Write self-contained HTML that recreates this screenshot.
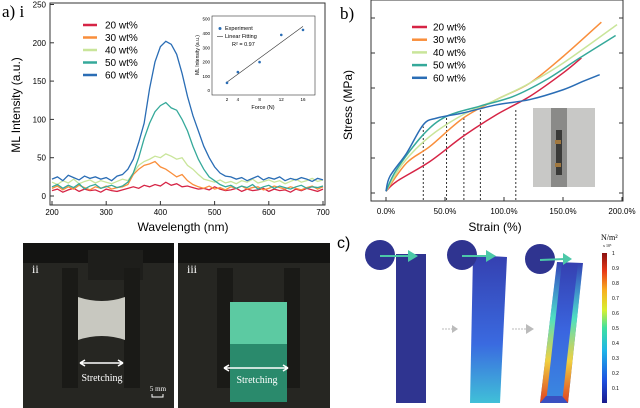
<!DOCTYPE html>
<html><head><meta charset="utf-8"><style>
body{margin:0;background:#fff;width:640px;height:408px;overflow:hidden;font-family:"Liberation Sans",sans-serif}
svg{position:absolute;left:0;top:0}
</style></head><body>
<svg width="640" height="408" viewBox="0 0 640 408">
<defs>
<linearGradient id="cb" x1="0" y1="1" x2="0" y2="0">
<stop offset="0" stop-color="#1a1a8c"/><stop offset="0.15" stop-color="#1e50e0"/><stop offset="0.35" stop-color="#1fb5e8"/><stop offset="0.5" stop-color="#3fe0a0"/><stop offset="0.62" stop-color="#d8f030"/><stop offset="0.75" stop-color="#f8b020"/><stop offset="0.88" stop-color="#e83a18"/><stop offset="1" stop-color="#8a1010"/>
</linearGradient>
<linearGradient id="bar2" x1="0" y1="0" x2="0" y2="1"><stop offset="0" stop-color="#3540b0"/><stop offset="0.6" stop-color="#3a6ae0"/><stop offset="1" stop-color="#40c0d8"/></linearGradient>
<linearGradient id="bar3" x1="0" y1="0" x2="0" y2="1"><stop offset="0" stop-color="#3540b0"/><stop offset="0.5" stop-color="#3a66e0"/><stop offset="1" stop-color="#3a8ae0"/></linearGradient>
<linearGradient id="edge" x1="0" y1="0" x2="0" y2="1"><stop offset="0" stop-color="#40c0e0" stop-opacity="0"/><stop offset="0.4" stop-color="#50e0c0"/><stop offset="0.7" stop-color="#f0d040"/><stop offset="1" stop-color="#e04020"/></linearGradient>
</defs>
<g id="chartA"></g>
<g id="chartB"></g>
<text x="2" y="17" font-family="Liberation Serif,serif" font-size="17">a) i</text>
<text x="340" y="19" font-family="Liberation Serif,serif" font-size="17">b)</text>
<text x="337" y="248" font-family="Liberation Sans,sans-serif" font-size="16">c)</text>
<g>
<rect x="23" y="243" width="151" height="165" fill="#262622"/>
<rect x="23" y="243" width="151" height="20" fill="#141412"/>
<rect x="88" y="250" width="55" height="30" fill="#1e1e1b"/>
<rect x="62" y="268" width="16" height="120" fill="#1a1a17"/>
<rect x="124" y="268" width="16" height="120" fill="#1a1a17"/>
<path d="M78 297 Q102 305 125 297 L125 340 Q102 332 78 340Z" fill="#c8c8c0"/>
<text x="32" y="273" fill="#fff" font-family="Liberation Serif,serif" font-size="12">ii</text>
<path d="M80 363 H123 M80 363 l5-3 M80 363 l5 3 M123 363 l-5-3 M123 363 l-5 3" stroke="#fff" stroke-width="1.6" fill="none"/>
<text x="102" y="381" fill="#fff" text-anchor="middle" font-family="Liberation Serif,serif" font-size="10">Stretching</text>
<text x="158" y="391" fill="#fff" text-anchor="middle" font-family="Liberation Serif,serif" font-size="7">5 mm</text>
<path d="M152 394 V397 H163 V394" stroke="#fff" fill="none"/>
</g>
<g>
<rect x="178" y="243" width="152" height="165" fill="#262622"/>
<rect x="178" y="243" width="152" height="20" fill="#141412"/>
<rect x="217" y="268" width="16" height="120" fill="#1a1a17"/>
<rect x="284" y="268" width="16" height="120" fill="#1a1a17"/>
<rect x="230" y="302" width="57" height="100" fill="#2a8a6c"/>
<rect x="230" y="302" width="57" height="42" fill="#5ccaa2"/>
<text x="187" y="273" fill="#fff" font-family="Liberation Serif,serif" font-size="12">iii</text>
<path d="M224 368 H288 M224 368 l5-3 M224 368 l5 3 M288 368 l-5-3 M288 368 l-5 3" stroke="#fff" stroke-width="1.6" fill="none"/>
<text x="257" y="383" fill="#fff" text-anchor="middle" font-family="Liberation Serif,serif" font-size="10">Stretching</text>
</g>
<g>
<rect x="396" y="254" width="30" height="149" fill="#2f3490"/>
<polygon points="473,255 507,257 500,403 470,403" fill="url(#bar2)"/>
<polygon points="557,262 583,263 568,403 540,403" fill="url(#bar3)"/>
<polygon points="557,262 562,262 546,403 540,403" fill="url(#edge)"/>
<polygon points="578,263 583,263 568,403 562,403" fill="url(#edge)"/>
<polygon points="546,396 562,396 568,403 540,403" fill="#3a50c0"/>
<circle cx="380" cy="255" r="15" fill="#2f3490"/>
<circle cx="462" cy="255" r="15" fill="#2f3490"/>
<circle cx="540" cy="259" r="15" fill="#2f3490"/>
<g stroke="#4cc8a8" stroke-width="2"><line x1="380" y1="256" x2="410" y2="256"/><line x1="462" y1="256" x2="488" y2="256"/><line x1="540" y1="260" x2="565" y2="259"/></g>
<g fill="#4cc8a8"><polygon points="408,250 418,256 408,262"/><polygon points="486,250 496,256 486,262"/><polygon points="563,253 572,259 563,265"/></g>
<g stroke="#bbb" stroke-dasharray="2,1"><line x1="442" y1="329" x2="452" y2="329"/><line x1="512" y1="329" x2="526" y2="329"/></g>
<g fill="#bbb"><polygon points="452,325 458,329 452,333"/><polygon points="526,324 534,329 526,334"/></g>
<rect x="602" y="253" width="5" height="150" fill="url(#cb)"/>
<text x="601" y="240" font-family="Liberation Serif,serif" font-size="8">N/m²</text>
<text x="603" y="247" font-family="Liberation Serif,serif" font-size="4">x 10⁵</text>
<g font-size="5" font-family="Liberation Sans,sans-serif" id="cbt"></g>
</g>
<g>
<rect x="533" y="108" width="62" height="79" fill="#c8c8c6"/>
<rect x="551" y="108" width="16" height="79" fill="#8a8a88"/>
<rect x="556" y="130" width="6" height="45" fill="#3a3a38"/>
<rect x="555" y="140" width="6" height="4" fill="#a07840"/><rect x="555" y="163" width="6" height="4" fill="#a07840"/>
</g>
</svg>
<script>
const NS="http://www.w3.org/2000/svg";
function mk(p,t,a){const e=document.createElementNS(NS,t);for(const k in a)e.setAttribute(k,a[k]);p.appendChild(e);return e;}
const wavelengths=[200,210,220,230,240,250,260,270,280,290,300,310,320,330,340,350,360,370,380,390,400,410,420,430,440,450,460,470,480,490,500,510,520,530,540,550,560,570,580,590,600,610,620,630,640,650,660,670,680,690,700];
const s20=[7,9,5,8,10,6,9,7,8,5,9,7,6,8,10,12,10,14,12,15,13,18,14,16,12,13,11,9,10,8,12,9,7,8,10,6,9,7,8,10,6,9,7,8,5,9,7,10,8,6,9];
const s30=[10,13,8,12,9,14,11,8,12,10,13,9,11,12,15,28,35,40,42,45,38,35,30,25,28,20,15,12,10,13,9,11,8,12,10,13,9,11,12,8,10,13,11,9,12,10,8,11,13,9,12];
const s40=[18,15,20,17,22,16,19,21,17,20,18,16,19,22,20,30,40,45,48,52,50,55,52,48,50,40,35,28,22,20,18,21,17,19,16,20,18,22,17,19,21,18,20,16,19,22,18,20,23,19,21];
const s50=[12,15,10,14,11,16,9,13,15,10,12,14,11,13,18,30,50,75,95,110,118,122,115,112,100,85,65,48,35,25,20,15,12,14,10,13,11,15,9,12,14,10,13,11,9,12,14,10,12,11,13];
const s60=[22,25,20,27,24,21,26,23,25,22,24,20,26,28,35,48,70,95,140,175,195,202,198,185,160,130,105,85,65,50,38,30,26,25,22,24,20,23,26,21,24,22,25,20,23,21,24,22,19,23,21];
const seriesA=[s20,s30,s40,s50,s60];
const names=["20 wt%","30 wt%","40 wt%","50 wt%","60 wt%"];
const colors=["#d62445","#f98e3b","#c9e59a","#35a99a","#2a6db5"];
const xTicksA=[200,300,400,500,600,700];
const yTicksA=[0,50,100,150,200,250];
const insetForce=[2,4,8,12,16];
const insetML=[55,130,200,390,425];
const insetXT=[2,4,8,12,16];
const insetYT=[0,100,200,300,400,500];
const strain20=[0,9,37.2,65.4,93.7,121.9,150.1,165.6];
const stress20=[0.05,0.33,0.9,1.62,2.24,2.76,3.43,3.86];
const strain30=[0,17.5,37.2,65.4,93.7,121.9,150.1,182.5];
const stress30=[0.05,0.86,1.33,2.14,2.67,3.14,3.9,4.88];
const strain40=[0,14.7,37.2,65.4,93.7,121.9,150.1,195.8];
const stress40=[0.05,0.86,1.62,2.24,2.67,3.14,3.71,4.81];
const strain50=[0,9,31.6,51.3,79.5,107.8,136,164.2,194.6];
const stress50=[0.05,0.67,1.67,2.19,2.48,2.76,3.24,3.86,4.5];
const strain60=[0,3.4,17.5,31.6,42.9,65.5,93.7,121.9,150.1,167,181.1];
const stress60=[0.05,0.48,1.14,1.95,2.14,2.29,2.52,2.67,2.95,3.19,3.38];
const dashStrain=[31.6,51.3,66,80,110];
const dashStress=[1.9,2.2,2.14,2.38,2.4];
const xTicksB=[0,50,100,150,200];
const yTicksB=[0,1,2,3,4,5];

function smooth(pts){let d="M"+pts[0][0]+" "+pts[0][1];for(let i=1;i<pts.length;i++){const p0=pts[Math.max(0,i-2)],p1=pts[i-1],p2=pts[i],p3=pts[Math.min(pts.length-1,i+1)];d+=" C"+(p1[0]+(p2[0]-p0[0])/6)+" "+(p1[1]+(p2[1]-p0[1])/6)+" "+(p2[0]-(p3[0]-p1[0])/6)+" "+(p2[1]-(p3[1]-p1[1])/6)+" "+p2[0]+" "+p2[1];}return d;}

(function(){
const g=document.getElementById("chartA");
const X=v=>52+(v-200)/500*271, Y=v=>196-v*0.766;
const fr=mk(g,"rect",{x:50,y:3,width:275,height:202,fill:"none",stroke:"#333","stroke-width":1});


xTicksA.forEach(t=>{mk(g,"line",{x1:X(t),x2:X(t),y1:205,y2:201,stroke:"#333"});const e=mk(g,"text",{x:X(t),y:215,"font-size":8,"text-anchor":"middle"});e.textContent=t;

});
yTicksA.forEach(t=>{mk(g,"line",{x1:50,x2:54,y1:Y(t),y2:Y(t),stroke:"#333"});const e=mk(g,"text",{x:46,y:Y(t)+3,"font-size":8,"text-anchor":"end"});e.textContent=t;

});
const xl=mk(g,"text",{x:183,y:231,"font-size":12,"text-anchor":"middle"});xl.textContent="Wavelength (nm)";


const yl=mk(g,"text",{x:0,y:0,"font-size":12,"text-anchor":"middle",transform:"translate(20,105) rotate(-90)"});yl.textContent="ML Intensity (a.u.)";


seriesA.forEach((s,k)=>{const pts=s.map((v,i)=>X(wavelengths[i])+","+Y(v)).join(" ");const pl=mk(g,"polyline",{points:pts,fill:"none",stroke:colors[k],"stroke-width":1.3});


const ly=25+k*12.5;const ln=mk(g,"line",{x1:83,x2:97,y1:ly,y2:ly,stroke:colors[k],"stroke-width":2.5});


const t=mk(g,"text",{x:105,y:ly+3.5,"font-size":10});t.textContent=names[k];

});
const IX=v=>227+(v-2)/14*76, IY=v=>90.7-v*0.143;
const ifr=mk(g,"rect",{x:212,y:16,width:103,height:79,fill:"#fff",stroke:"#333","stroke-width":0.6});


insetXT.forEach(t=>{const e=mk(g,"text",{x:IX(t),y:101,"font-size":4.5,"text-anchor":"middle"});e.textContent=t;

});
insetYT.forEach(t=>{const e=mk(g,"text",{x:210,y:IY(t)+1.5,"font-size":4.5,"text-anchor":"end"});e.textContent=t;

});
const fl=mk(g,"line",{x1:IX(2),y1:IY(60),x2:IX(16),y2:IY(450),stroke:"#333","stroke-width":0.6});


insetForce.forEach((f,i)=>{const c=mk(g,"circle",{cx:IX(f),cy:IY(insetML[i]),r:1.3,fill:"#2a6db5"});

});
const lab=[["Experiment",225,30],["Linear Fitting",225,38],["R² = 0.97",232,46]];
mk(g,"circle",{cx:220,cy:28.5,r:1.5,fill:"#2a6db5"});mk(g,"line",{x1:217,x2:223,y1:36.5,y2:36.5,stroke:"#333","stroke-width":0.6});
lab.forEach(l=>{const e=mk(g,"text",{x:l[1],y:l[2],"font-size":5.5});e.textContent=l[0];

});
const ixl=mk(g,"text",{x:263,y:109,"font-size":5.5,"text-anchor":"middle"});ixl.textContent="Force (N)";


const iyl=mk(g,"text",{x:0,y:0,"font-size":5,"text-anchor":"middle",transform:"translate(199,55) rotate(-90)"});iyl.textContent="ML Intensity (a.u.)";


})();

(function(){
const g=document.getElementById("chartB");
const X=v=>386+v*1.18, Y=v=>193-v*35;
const fr=mk(g,"rect",{x:371,y:0,width:252,height:201,fill:"none",stroke:"#333","stroke-width":1});


xTicksB.forEach(t=>{mk(g,"line",{x1:X(t),x2:X(t),y1:201,y2:197,stroke:"#333"});const e=mk(g,"text",{x:X(t),y:214,"font-size":8,"text-anchor":"middle"});e.textContent=t.toFixed(1)+"%";

});
yTicksB.forEach(t=>{mk(g,"line",{x1:371,x2:375,y1:Y(t),y2:Y(t),stroke:"#333"});mk(g,"line",{x1:619,x2:623,y1:Y(t),y2:Y(t),stroke:"#333"});});
const xl=mk(g,"text",{x:495,y:231,"font-size":12,"text-anchor":"middle"});xl.textContent="Strain (%)";


const yl=mk(g,"text",{x:0,y:0,"font-size":12,"text-anchor":"middle",transform:"translate(352,105) rotate(-90)"});yl.textContent="Stress (MPa)";


dashStrain.forEach((s,i)=>{const l=mk(g,"line",{x1:X(s),x2:X(s),y1:Y(0)+7,y2:Y(dashStress[i]),stroke:"#333","stroke-dasharray":"2,2"});

});
const SX=[strain20,strain30,strain40,strain50,strain60],SY=[stress20,stress30,stress40,stress50,stress60];
SX.forEach((xs,k)=>{const p=mk(g,"path",{d:smooth(xs.map((v,i)=>[X(v),Y(SY[k][i])])),fill:"none",stroke:colors[k],"stroke-width":1.5});


const ly=27+k*12.7;const ln=mk(g,"line",{x1:412,x2:427,y1:ly,y2:ly,stroke:colors[k],"stroke-width":2.5});


const t=mk(g,"text",{x:433,y:ly+3.5,"font-size":10});t.textContent=names[k];

});
})();
(function(){const g=document.getElementById("cbt");const cbTicks=[1,0.9,0.8,0.7,0.6,0.5,0.4,0.3,0.2,0.1];
cbTicks.forEach(t=>{const y=253+(1-t)*150;const e=mk(g,"text",{x:612,y:y+2});e.textContent=t;

});})();
</script>
</body></html>
